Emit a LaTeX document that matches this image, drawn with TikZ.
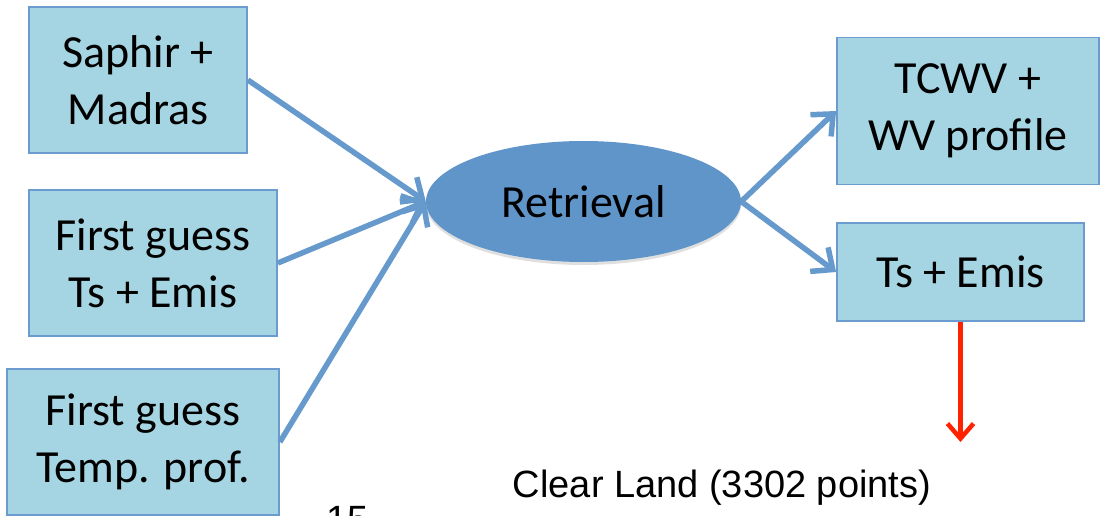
\documentclass[tikz,border=0pt]{standalone}
\usepackage{fontspec}
\setmainfont{Carlito}
\newfontfamily\arialfont{Liberation Sans}
\usetikzlibrary{positioning,calc,arrows,arrows.meta,shapes.geometric,shadows}
\definecolor{boxfill}{RGB}{165,213,226}
\definecolor{boxline}{RGB}{108,156,207}
\definecolor{ellfill}{RGB}{96,149,201}
\definecolor{flow}{RGB}{102,153,204}
\definecolor{redflow}{RGB}{255,34,0}

\begin{document}
\begin{tikzpicture}[x=1pt,y=-1pt,
    inbox/.style={draw=boxline,line width=1.8pt,fill=boxfill,inner sep=0pt,align=center,font=\fontsize{46}{57}\selectfont},
    flowarrow/.style={draw=flow,line width=5.5pt,-{Straight Barb[length=17pt,width=30pt]}}]
    \useasboundingbox (0,0) rectangle (1100,516);
    \node[inbox,minimum width=218pt,minimum height=146pt] (Sap) at (138,80) {Saphir +\\Madras};
    \node[inbox,minimum width=248pt,minimum height=146pt] (FgTs) at (153,263) {First guess\\Ts + Emis};
    \node[inbox,minimum width=272pt,minimum height=146pt] (FgTp) at (143,442) {First guess\\Temp. prof.};
    \node[ellipse,fill=ellfill,inner sep=0pt,minimum width=315pt,minimum height=121pt,
          font=\fontsize{46}{57}\selectfont,
          drop shadow={opacity=0.25,shadow xshift=0pt,shadow yshift=-3pt}] (Ret) at (583.5,201.5) {Retrieval};
    \node[inbox,minimum width=262pt,minimum height=147pt] (Tcwv) at (968,111) {TCWV +\\WV profile};
    \node[inbox,minimum width=247pt,minimum height=98pt] (TsE) at (960.5,272) {Ts + Emis};
    \coordinate (Out) at (960.5,442);
    \draw[flowarrow] (Sap.east) -- (Ret.west);
    \draw[flowarrow] (FgTs.east) -- (Ret.west);
    \draw[flowarrow] (FgTp.east) -- (Ret.west);
    \draw[flowarrow] (Ret.east) -- (Tcwv.west);
    \draw[flowarrow] (Ret.east) -- (TsE.west);
    \draw[draw=redflow,line width=4.5pt,-{Straight Barb[length=15pt,width=26pt]}] (TsE.south) -- (Out);
    \node[font=\arialfont\fontsize{38}{46}\selectfont] (Cap) at (722,488) {Clear Land (3302 points)};
    \node[font=\arialfont\fontsize{38}{46}\selectfont,anchor=north] (Pg) at (348,503) {15};
\end{tikzpicture}
\end{document}
